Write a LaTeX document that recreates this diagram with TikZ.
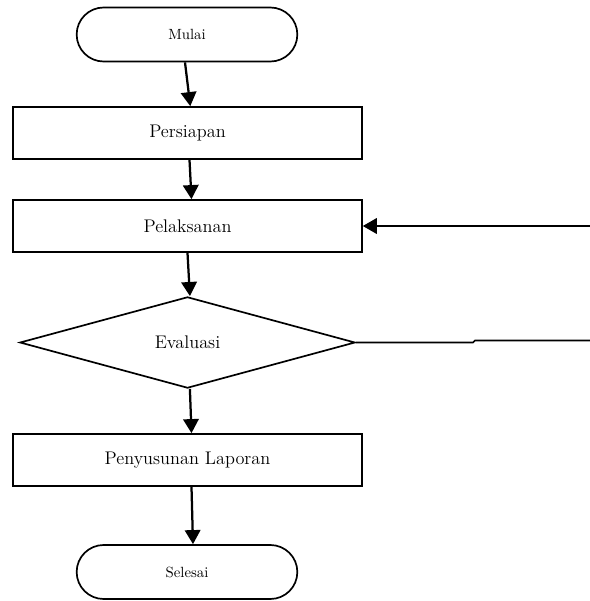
\documentclass[tikz,border=0pt]{standalone}
\usepackage{tikz}
\usetikzlibrary{positioning, arrows.meta, shapes.misc, shapes.geometric}
\tikzset{
    terminal_style/.style={
        rounded rectangle,    % 开始/结束：圆角矩形
        draw=black,
        line width=1.2pt,
        minimum width=5.75cm,
        minimum height=1.35cm,
        font=\fontsize{10.5}{12}\selectfont
    },
    process_style/.style={
        rectangle,            % 过程：矩形
        draw=black,
        line width=1.2pt,
        minimum width=8.72cm,
        minimum height=1.3cm,
        font=\fontsize{13}{15}\selectfont
    },
    decision_style/.style={
        diamond,              % 判断：菱形
        draw=black,
        line width=1.2pt,
        inner sep=0pt,
        minimum width=8.38cm,
        minimum height=2.28cm,
        font=\fontsize{13}{15}\selectfont
    },
    arrow_style/.style={
        -{Triangle[length=10pt,width=11pt]},
        line width=1.6pt
    },
    line_style/.style={
        line width=1.2pt
    }
}

\begin{document}
\begin{tikzpicture}[x=0.025cm, y=-0.025cm]
            \useasboundingbox (0,0) rectangle (590,601);
            % 1. 定义节点位置
            \node[terminal_style] (mulai) at (187,34.5) {Mulai};
            \node[process_style] (persiapan) at (187.5,133) {Persiapan};
            \node[process_style] (pelaksanan) at (187.5,226) {Pelaksanan};
            \node[decision_style] (evaluasi) at (187.5,342.5) {Evaluasi};
            \node[process_style] (penyusunan) at (187.5,460) {Penyusunan Laporan};
            \node[terminal_style] (selesai) at (187,572) {Selesai};
            \coordinate (belok_a) at (473,342.5);
            \coordinate (belok_b) at (475,340.5);
            \coordinate (kanan_bawah) at (590,340.5);
            \coordinate (kanan_atas) at (590,226);

            % 2. 绘制带箭头的连线
            \draw[arrow_style] ([xshift=-0.05cm]mulai.south) -- ([xshift=0.07cm]persiapan.north);
            \draw[arrow_style] ([xshift=0.05cm]persiapan.south) -- ([xshift=0.1cm]pelaksanan.north);
            \draw[arrow_style] (pelaksanan.south) -- ([xshift=0.06cm]evaluasi.north);
            \draw[arrow_style] ([xshift=0.06cm]evaluasi.south) -- ([xshift=0.1cm]penyusunan.north);
            \draw[arrow_style] ([xshift=0.1cm]penyusunan.south) -- ([xshift=0.15cm]selesai.north);

            % 3. 返回线
            \draw[line_style] (evaluasi.east) -- (belok_a) -- (belok_b) -- (kanan_bawah);
            \draw[arrow_style] (kanan_atas) -- (pelaksanan.east);
        \end{tikzpicture}
\end{document}
